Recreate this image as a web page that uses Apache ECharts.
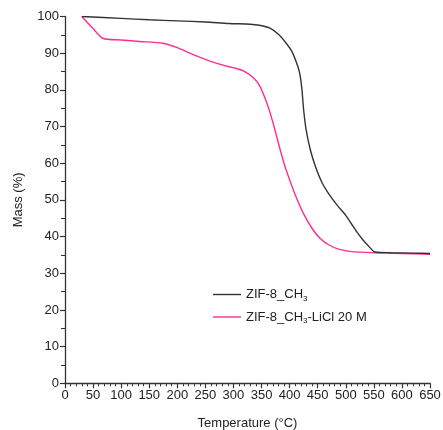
<!DOCTYPE html>
<html><head><meta charset="utf-8">
<script src="https://cdn.jsdelivr.net/npm/echarts@6/dist/echarts.min.js"></script>
<style>html,body{margin:0;padding:0;background:#fff}#c{width:443px;height:430px}</style>
</head><body><div id="c"></div>
<script>
var seriesNames = ['ZIF-8_CH3', 'ZIF-8_CH3-LiCl 20 M'];
var blackTemp = [30, 100, 150, 200, 250, 292, 330, 346, 365, 381, 395, 404, 412, 418, 422, 425, 429.5, 437, 446, 458, 470, 485, 500, 510, 520, 530, 540, 552, 580, 620, 650];
var blackMass = [100, 99.5, 99.1, 98.8, 98.5, 98.1, 97.9, 97.6, 96.8, 95, 92.5, 90.5, 87.5, 84.5, 80, 74.5, 69, 63.6, 59.1, 54.6, 51.6, 48.5, 45.8, 43.5, 41.2, 39.2, 37.5, 35.8, 35.6, 35.5, 35.4];
var pinkTemp = [30, 50, 68, 100, 133, 174, 200, 222, 250, 269, 292, 304, 320, 334, 346, 358, 369, 380, 390, 399, 411, 425, 440, 455, 470, 487, 511, 550, 600, 650];
var pinkMass = [100, 96.7, 94, 93.6, 93.2, 92.7, 91.5, 90, 88.3, 87.3, 86.3, 85.9, 85, 83.5, 81.3, 77, 71.8, 65.5, 60, 55.9, 51, 46.2, 42.2, 39.4, 37.7, 36.6, 35.9, 35.6, 35.4, 35.2];

function zip(a, b) { return a.map(function (v, i) { return [v, b[i]]; }); }
var font = 'Liberation Sans, Arial, sans-serif';
var chart = echarts.init(document.getElementById('c'), null, {renderer: 'canvas'});
chart.setOption({
  animation: false,
  backgroundColor: '#fff',
  grid: {left: 65, right: 13, top: 16.5, bottom: 46.7, containLabel: false, outerBoundsMode: 'none'},
  legend: {
    left: 208, top: 283, orient: 'vertical', itemGap: 8,
    itemWidth: 28, itemHeight: 14,
    data: seriesNames.map(function (n) { return {name: n, icon: 'path://M0,6.3 L28,6.3 L28,7.7 L0,7.7 Z'}; }),
    formatter: function (n) {
      return n.replace('CH3', 'CH{sub|3}');
    },
    textStyle: {fontFamily: font, fontSize: 13, color: '#222',
      rich: {sub: {fontFamily: font, fontSize: 8, color: '#222', padding: [8, 0, 0, 0]}}}
  },
  xAxis: {
    type: 'value', min: 0, max: 650, interval: 50,
    name: 'Temperature (°C)', nameLocation: 'middle', nameGap: 34,
    nameTextStyle: {fontFamily: font, fontSize: 13, color: '#222'},
    axisLine: {lineStyle: {color: '#333', width: 1.3}},
    axisTick: {length: 5, lineStyle: {color: '#333', width: 1.2}},
    minorTick: {show: true, splitNumber: 5, length: 3, lineStyle: {color: '#333', width: 1}},
    axisLabel: {fontFamily: font, fontSize: 13, color: '#222', margin: 6},
    splitLine: {show: false}
  },
  yAxis: {
    type: 'value', min: 0, max: 100, interval: 10,
    name: 'Mass (%)', nameLocation: 'middle', nameGap: 40, nameRotate: 90,
    nameTextStyle: {fontFamily: font, fontSize: 13, color: '#222'},
    axisLine: {show: true, lineStyle: {color: '#333', width: 1.3}},
    axisTick: {show: true, length: 5, lineStyle: {color: '#333', width: 1.2}},
    minorTick: {show: true, splitNumber: 2, length: 4, lineStyle: {color: '#333', width: 1}},
    axisLabel: {fontFamily: font, fontSize: 13, color: '#222', margin: 6},
    splitLine: {show: false}
  },
  series: [
    {name: seriesNames[0], type: 'line', symbol: 'none', smooth: 0.25,
     data: zip(blackTemp, blackMass), color: '#333333', lineStyle: {width: 1.4, color: '#333333'}, z: 3},
    {name: seriesNames[1], type: 'line', symbol: 'none', smooth: 0.25,
     data: zip(pinkTemp, pinkMass), color: '#ff2d95', lineStyle: {width: 1.4, color: '#ff2d95'}, z: 2}
  ]
});
</script></body></html>
